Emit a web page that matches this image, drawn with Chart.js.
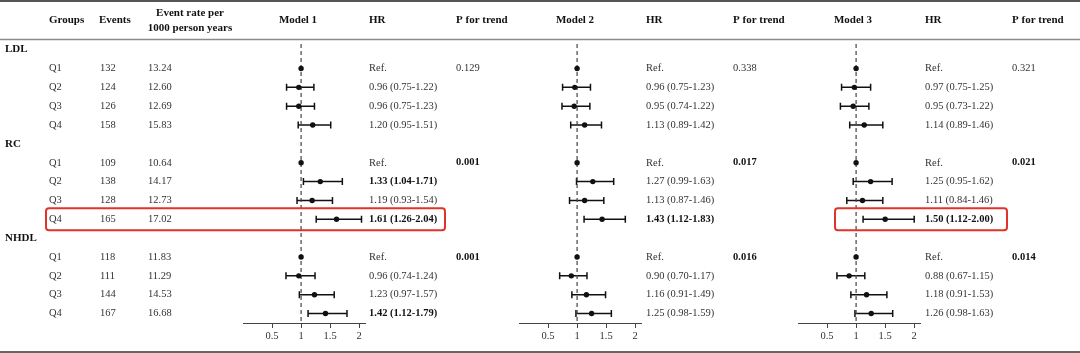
<!DOCTYPE html>
<html>
<head>
<meta charset="utf-8">
<script src="https://cdn.jsdelivr.net/npm/chart.js@4.4.1/dist/chart.umd.min.js"></script>
<style>
    body { margin: 0; background: #fff; }
    .wrap { position: relative; width: 1080px; height: 353px; }
    .wrap canvas { position: absolute; left: 0; top: 0; }
</style>
</head>
<body>
<div class="wrap">
    <canvas id="m1" width="1080" height="353"></canvas>
    <canvas id="m2" width="1080" height="353"></canvas>
    <canvas id="m3" width="1080" height="353"></canvas>
</div>
<script>
// Table data
const lipids = ['LDL', 'RC', 'NHDL'];
const quartiles = ['Q1', 'Q2', 'Q3', 'Q4'];
const events = [[132, 124, 126, 158], [109, 138, 128, 165], [118, 111, 144, 167]];
const eventRates = [[13.24, 12.60, 12.69, 15.83], [10.64, 14.17, 12.73, 17.02], [11.83, 11.29, 14.53, 16.68]];

// Model 1
const model1Hr = [[1, 0.96, 0.96, 1.20], [1, 1.33, 1.19, 1.61], [1, 0.96, 1.23, 1.42]];
const model1Lo = [[null, 0.75, 0.75, 0.95], [null, 1.04, 0.93, 1.26], [null, 0.74, 0.97, 1.12]];
const model1Hi = [[null, 1.22, 1.23, 1.51], [null, 1.71, 1.54, 2.04], [null, 1.24, 1.57, 1.79]];
const model1P = [0.129, 0.001, 0.001];

// Model 2
const model2Hr = [[1, 0.96, 0.95, 1.13], [1, 1.27, 1.13, 1.43], [1, 0.90, 1.16, 1.25]];
const model2Lo = [[null, 0.75, 0.74, 0.89], [null, 0.99, 0.87, 1.12], [null, 0.70, 0.91, 0.98]];
const model2Hi = [[null, 1.23, 1.22, 1.42], [null, 1.63, 1.46, 1.83], [null, 1.17, 1.49, 1.59]];
const model2P = [0.338, 0.017, 0.016];

// Model 3
const model3Hr = [[1, 0.97, 0.95, 1.14], [1, 1.25, 1.11, 1.50], [1, 0.88, 1.18, 1.26]];
const model3Lo = [[null, 0.75, 0.73, 0.89], [null, 0.95, 0.84, 1.12], [null, 0.67, 0.91, 0.98]];
const model3Hi = [[null, 1.25, 1.22, 1.46], [null, 1.62, 1.46, 2.00], [null, 1.15, 1.53, 1.63]];
const model3P = [0.321, 0.021, 0.014];

const xTicks = [0.5, 1, 1.5, 2];

const FONT = '"Liberation Serif", "Times New Roman", serif';
const RED = '#e2332b';

// Panel layout (pixel positions on the page)
const panels = [
    { id: 'm1', name: 'Model 1', hr: model1Hr, lo: model1Lo, hi: model1Hi, p: model1P,
      left: 243, right: 365, headX: 298, hrX: 369, pX: 456, box: [46, 445] },
    { id: 'm2', name: 'Model 2', hr: model2Hr, lo: model2Lo, hi: model2Hi, p: model2P,
      left: 519, right: 641, headX: 575, hrX: 646, pX: 733, box: null },
    { id: 'm3', name: 'Model 3', hr: model3Hr, lo: model3Lo, hi: model3Hi, p: model3P,
      left: 798, right: 920, headX: 853, hrX: 925, pX: 1012, box: [835, 1007] }
];

// row index: lipid header at k*5, quartiles below it
const rowOf = (k, q) => k * 5 + 1 + q;

function text(ctx, s, x, y, bold, size, align) {
    ctx.font = (bold ? 'bold ' : '') + size + 'px ' + FONT;
    ctx.fillStyle = bold ? '#111' : '#333';
    ctx.textAlign = align || 'left';
    ctx.textBaseline = 'middle';
    ctx.fillText(s, x, y);
}

function hline(ctx, y, w, color) {
    ctx.save();
    ctx.strokeStyle = color;
    ctx.lineWidth = w;
    ctx.beginPath();
    ctx.moveTo(0, y);
    ctx.lineTo(1080, y);
    ctx.stroke();
    ctx.restore();
}

// Whiskers for the confidence intervals, drawn under the points
const whiskers = {
    id: 'whiskers',
    beforeDatasetsDraw(chart, args, opts) {
        const { ctx, scales: { x, y } } = chart;
        ctx.save();
        ctx.strokeStyle = '#111';
        ctx.lineWidth = 1.5;
        opts.lo.forEach((grp, k) => grp.forEach((lo, q) => {
            if (lo === null) return;
            const hi = opts.hi[k][q];
            const py = y.getPixelForValue(rowOf(k, q));
            const x0 = x.getPixelForValue(lo), x1 = x.getPixelForValue(hi);
            ctx.beginPath();
            ctx.moveTo(x0, py); ctx.lineTo(x1, py);
            ctx.moveTo(x0, py - 3.5); ctx.lineTo(x0, py + 3.5);
            ctx.moveTo(x1, py - 3.5); ctx.lineTo(x1, py + 3.5);
            ctx.stroke();
        }));
        ctx.restore();
    }
};

// Text columns of the table
const tableText = {
    id: 'tableText',
    afterDraw(chart, args, opts) {
        const { ctx, scales: { y } } = chart;
        const pn = opts.panel;
        ctx.save();

        if (opts.leftColumns) {
            hline(ctx, 1, 2, '#555');
            hline(ctx, 39.5, 1.5, '#8a8a8a');
            hline(ctx, 352, 2, '#666');
            text(ctx, 'Groups', 49, 20, true, 11);
            text(ctx, 'Events', 99, 20, true, 11);
            text(ctx, 'Event rate per', 190, 13, true, 11, 'center');
            text(ctx, '1000 person years', 190, 28, true, 11, 'center');
            lipids.forEach((name, k) => {
                text(ctx, name, 5, y.getPixelForValue(k * 5), true, 11);
                quartiles.forEach((qn, q) => {
                    const py = y.getPixelForValue(rowOf(k, q));
                    text(ctx, qn, 49, py, false, 10.5);
                    text(ctx, String(events[k][q]), 100, py, false, 10.5);
                    text(ctx, eventRates[k][q].toFixed(2), 148, py, false, 10.5);
                });
            });
        }

        text(ctx, pn.name, pn.headX, 20, true, 11, 'center');
        text(ctx, 'HR', pn.hrX, 20, true, 11);
        text(ctx, 'P for trend', pn.pX, 20, true, 11);

        pn.hr.forEach((grp, k) => {
            grp.forEach((hr, q) => {
                const py = y.getPixelForValue(rowOf(k, q));
                const lo = pn.lo[k][q], hi = pn.hi[k][q];
                if (lo === null) {
                    text(ctx, 'Ref.', pn.hrX, py, false, 10.5);
                } else {
                    const sig = lo > 1 || hi < 1;
                    text(ctx, hr.toFixed(2) + ' (' + lo.toFixed(2) + '-' + hi.toFixed(2) + ')', pn.hrX, py, sig, 10.5);
                }
            });
            const p = pn.p[k];
            text(ctx, p.toFixed(3), pn.pX, y.getPixelForValue(rowOf(k, 0)), p < 0.05, 10.5);
        });

        // highlight box around RC Q4
        if (pn.box) {
            const py = y.getPixelForValue(rowOf(1, 3));
            ctx.strokeStyle = RED;
            ctx.lineWidth = 2;
            ctx.beginPath();
            ctx.roundRect(pn.box[0], py - 11, pn.box[1] - pn.box[0], 22, 3);
            ctx.stroke();
        }
        ctx.restore();
    }
};

function makePanel(pn, leftColumns) {
    const points = [];
    pn.hr.forEach((grp, k) => grp.forEach((v, q) => points.push({ x: v, y: rowOf(k, q) })));

    new Chart(document.getElementById(pn.id), {
        type: 'scatter',
        data: {
            datasets: [
                {
                    data: points,
                    pointRadius: 2.7,
                    backgroundColor: '#111',
                    borderWidth: 0
                },
                {
                    data: [{ x: 1, y: -0.3 }, { x: 1, y: 14.5 }],
                    showLine: true,
                    borderColor: '#444',
                    borderWidth: 1.2,
                    borderDash: [4, 3],
                    pointRadius: 0
                }
            ]
        },
        options: {
            responsive: false,
            animation: false,
            events: [],
            layout: { padding: { left: pn.left, right: 1080 - pn.right, top: 44, bottom: 0 } },
            plugins: {
                legend: { display: false },
                tooltip: { enabled: false },
                whiskers: { lo: pn.lo, hi: pn.hi },
                tableText: { panel: pn, leftColumns: leftColumns }
            },
            scales: {
                x: {
                    type: 'linear',
                    min: 0,
                    max: 2.1,
                    afterBuildTicks: s => { s.ticks = xTicks.map(v => ({ value: v })); },
                    afterFit: s => { s.height = 30; },
                    grid: { drawOnChartArea: false, drawTicks: true, tickLength: 5, color: '#444' },
                    border: { color: '#444', width: 1 },
                    ticks: {
                        callback: v => String(v),
                        font: { family: FONT, size: 10.5 },
                        color: '#333',
                        padding: 2,
                        maxRotation: 0
                    }
                },
                y: { type: 'linear', reverse: true, min: -0.3, max: 14.5, display: false }
            }
        },
        plugins: [whiskers, tableText]
    });
}

panels.forEach((pn, i) => makePanel(pn, i === 0));
</script>
</body>
</html>
